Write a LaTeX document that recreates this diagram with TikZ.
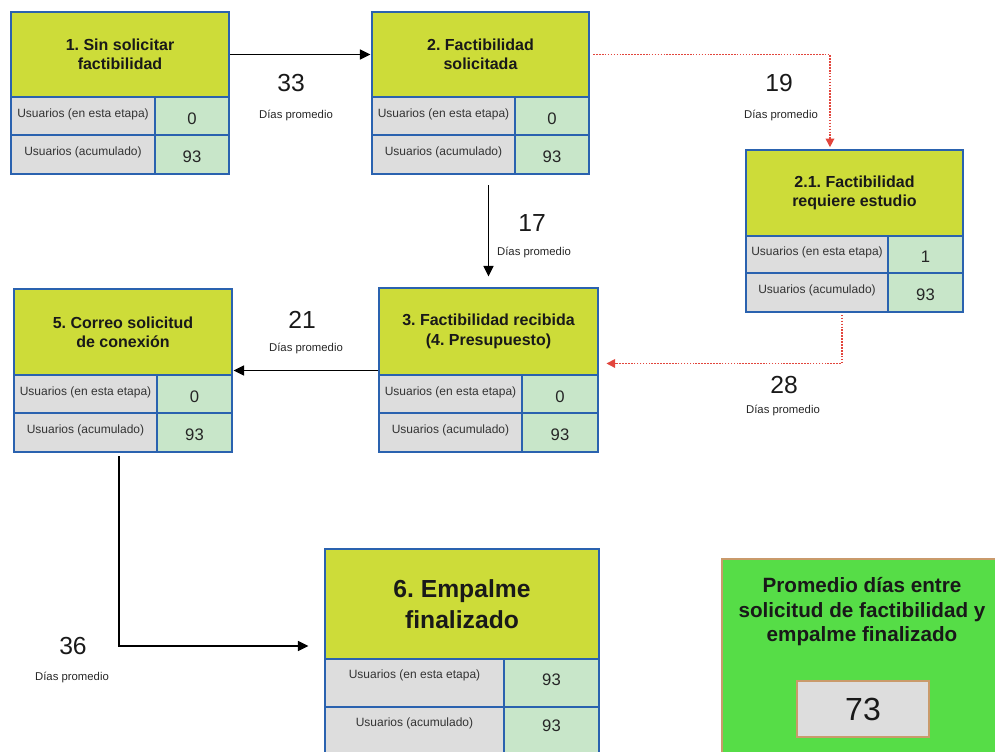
\documentclass[tikz,border=0pt]{standalone}
\usepackage{fontspec}
\setmainfont{Liberation Sans}
\usetikzlibrary{fit,arrows.meta}
\frenchspacing

\definecolor{titlefill}{HTML}{CDDC39}
\definecolor{greycell}{HTML}{DDDDDD}
\definecolor{valcell}{HTML}{C8E6C9}
\definecolor{frameblue}{HTML}{2A62AF}
\definecolor{dotred}{HTML}{E2453C}
\definecolor{sumgreen}{HTML}{56DD47}
\definecolor{sumedge}{HTML}{C99A6B}

% the two rows of counters under a stage title
% #1 id, #2 left, #3 split, #4 right, #5 row top, #6 row middle, #7 bottom, #8 #9 values
\newcommand\stagerows[9]{%
  \node[gcell, fit={(#2,#5) (#3,#6)}, label={[lbl]center:Usuarios (en esta etapa)}] (#1a) {};
  \node[vcell, fit={(#3,#5) (#4,#6)}, label={[val]center:#8}] (#1b) {};
  \node[gcell, fit={(#2,#6) (#3,#7)}, label={[lbl]center:Usuarios (acumulado)}] (#1c) {};
  \node[vcell, fit={(#3,#6) (#4,#7)}, label={[val]center:#9}] (#1d) {};
}

\begin{document}
\begin{tikzpicture}[x=0.75pt, y=-0.75pt,
  box/.style={rectangle, draw=frameblue, line width=2.2pt, inner sep=0pt},
  ttl/.style={box, fill=titlefill},
  ttltxt/.style={align=center, text=black!90, font=\fontsize{12}{14.5}\selectfont\bfseries},
  bigtxt/.style={align=center, text=black!90, font=\fontsize{18.5}{23}\selectfont\bfseries},
  gcell/.style={box, fill=greycell},
  vcell/.style={box, fill=valcell},
  lbl/.style={font=\fontsize{9}{11}\selectfont, text=black!80, yshift=1.5pt},
  val/.style={font=\fontsize{12.5}{14}\selectfont, text=black!85, yshift=-2pt},
  lbltop/.style={font=\fontsize{9}{11}\selectfont, text=black!80, anchor=center},
  valtop/.style={font=\fontsize{12.5}{14}\selectfont, text=black!85, anchor=center},
  days/.style={font=\fontsize{18.5}{20}\selectfont, text=black!90},
  dayslbl/.style={font=\fontsize{8.5}{10}\selectfont, text=black!85},
  flow/.style={line width=1.2pt, -{Triangle[length=8pt,width=7.5pt]}},
  redflow/.style={color=dotred, line width=1.1pt, dash pattern=on 1.2pt off 1pt,
    -{Triangle[length=6.5pt,width=6.5pt]}},
]
\useasboundingbox (0,0) rectangle (995,751);
\clip (0,0) rectangle (995,751);

% stage 1
\node[ttl, fit={(11,12) (229,97)},
  label={[ttltxt]center:{1. Sin solicitar\\factibilidad}}] (s1t) {};
\stagerows{s1}{11}{155}{229}{97}{135}{174}{0}{93}

% stage 2
\node[ttl, fit={(372,12) (589,97)},
  label={[ttltxt]center:{2. Factibilidad\\solicitada}}] (s2t) {};
\stagerows{s2}{372}{515}{589}{97}{135}{174}{0}{93}

% stage 2.1
\node[ttl, fit={(746,150) (963,236)},
  label={[ttltxt]center:{2.1. Factibilidad\\requiere estudio}}] (s21t) {};
\stagerows{s21}{746}{888}{963}{236}{273}{312}{1}{93}

% stage 3
\node[ttl, fit={(379,288) (598,375)},
  label={[ttltxt]center:{3. Factibilidad recibida\\(4. Presupuesto)}}] (s3t) {};
\stagerows{s3}{379}{522}{598}{375}{413}{452}{0}{93}

% stage 5
\node[ttl, fit={(14,289) (232,375)},
  label={[ttltxt]center:{5. Correo solicitud\\de conexión}}] (s5t) {};
\stagerows{s5}{14}{157}{232}{375}{413}{452}{0}{93}

% stage 6
\node[ttl, fit={(325,549) (599,659)},
  label={[bigtxt]center:{6. Empalme\\finalizado}}] (s6t) {};
\node[gcell, fit={(325,659) (504,707)},
  label={[lbltop, yshift=-13.5pt]north:Usuarios (en esta etapa)}] (s6a) {};
\node[vcell, fit={(504,659) (599,707)},
  label={[valtop, yshift=-16.5pt]north:93}] (s6b) {};
\node[gcell, fit={(325,707) (504,775)},
  label={[lbltop, yshift=-13.5pt]north:Usuarios (acumulado)}] (s6c) {};
\node[vcell, fit={(504,707) (599,775)},
  label={[valtop, yshift=-15pt]north:93}] (s6d) {};

% overall average
\node[rectangle, fill=sumgreen, draw=sumedge, line width=1pt, inner sep=0pt,
  fit={(722,559) (1000,775)}] (sum) {};
\node[align=center, font=\fontsize{15.5}{18.4}\selectfont\bfseries, text=black!90]
  (sumttl) at (862,612) {Promedio días entre\\solicitud de factibilidad y\\empalme finalizado};
\node[rectangle, fill=greycell, draw=sumedge, line width=1pt, inner sep=0pt,
  fit={(797,681) (929,737)},
  label={[font=\fontsize{24}{26}\selectfont, text=black!90]center:73}] (sumval) {};

% transitions
\draw[flow] (s1t.east) -- (s2t.west);
\node[days] (d12) at (291,83) {33};
\node[dayslbl] (d12l) at (296,115) {Días promedio};

\draw[redflow, shorten <=2pt, shorten >=1pt] (s2t.east) -| ([xshift=-18.4pt]s21t.north);
\node[days] (d221) at (779,83) {19};
\node[dayslbl] (d221l) at (781,115) {Días promedio};

\draw[flow, shorten <=7.5pt, shorten >=7.5pt] (s3t.north |- s2c.south) -- (s3t.north);
\node[days] (d23) at (532,223) {17};
\node[dayslbl] (d23l) at (534,252) {Días promedio};

\draw[redflow, shorten <=1pt] ([xshift=18.75pt]s21c.south) |- ([shift={(5.25pt,9.75pt)}]s3t.south east);
\node[days] (d213) at (784,385) {28};
\node[dayslbl] (d213l) at (783,410) {Días promedio};

\draw[flow] ([yshift=4.5pt]s3t.south west) -- ([yshift=4.5pt]s5t.south east);
\node[days] (d35) at (302,320) {21};
\node[dayslbl] (d35l) at (306,348) {Días promedio};

\draw[flow, shorten <=2pt] ([xshift=25.1pt]s5c.south) |- ([shift={(-11.25pt,-31.5pt)}]s6t.west);
\node[days] (d56) at (73,646) {36};
\node[dayslbl] (d56l) at (72,677) {Días promedio};
\end{tikzpicture}
\end{document}
